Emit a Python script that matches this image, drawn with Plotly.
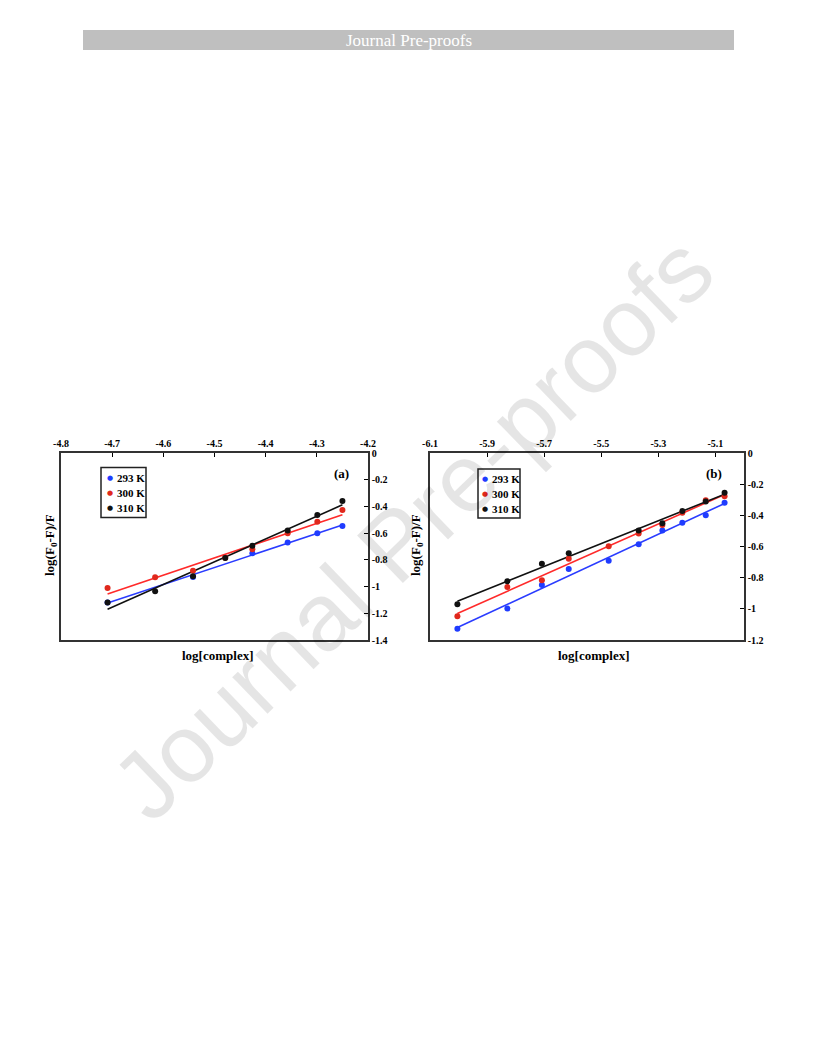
import numpy as np
import plotly.graph_objects as go

# figure is placed inside the page body (8px default margin)
W, H = 800, 1040
OFF = 8

# ---------------- data ----------------
series_names = ["293 K", "300 K", "310 K"]

# Panel (a)
a_x_293 = [-4.709, -4.542, -4.426, -4.357, -4.299, -4.250]
a_y_293 = [-1.119, -0.928, -0.750, -0.670, -0.601, -0.546]
a_x_300 = [-4.709, -4.616, -4.542, -4.479, -4.426, -4.357, -4.299, -4.250]
a_y_300 = [-1.010, -0.931, -0.881, -0.785, -0.720, -0.600, -0.514, -0.427]
a_x_310 = [-4.709, -4.616, -4.542, -4.479, -4.426, -4.357, -4.299, -4.250]
a_y_310 = [-1.119, -1.035, -0.923, -0.787, -0.695, -0.581, -0.464, -0.360]

# Panel (b)
b_x_293 = [-6.004, -5.829, -5.708, -5.614, -5.474, -5.369, -5.286, -5.216, -5.134, -5.068]
b_y_293 = [-1.128, -0.998, -0.847, -0.745, -0.691, -0.585, -0.498, -0.447, -0.400, -0.319]
b_x_300 = [-6.004, -5.829, -5.708, -5.614, -5.474, -5.369, -5.286, -5.216, -5.134, -5.068]
b_y_300 = [-1.047, -0.860, -0.817, -0.679, -0.598, -0.517, -0.462, -0.383, -0.304, -0.277]
b_x_310 = [-6.004, -5.829, -5.708, -5.614, -5.369, -5.286, -5.216, -5.134, -5.068]
b_y_310 = [-0.970, -0.823, -0.711, -0.643, -0.498, -0.451, -0.372, -0.311, -0.255]

# ticks
a_xticks = [-4.8, -4.7, -4.6, -4.5, -4.4, -4.3, -4.2]
a_xticktext = ["-4.8", "-4.7", "-4.6", "-4.5", "-4.4", "-4.3", "-4.2"]
a_yticks = [0, -0.2, -0.4, -0.6, -0.8, -1.0, -1.2, -1.4]
a_yticktext = ["0", "-0.2", "-0.4", "-0.6", "-0.8", "-1", "-1.2", "-1.4"]
b_xticks = [-6.1, -5.9, -5.7, -5.5, -5.3, -5.1]
b_xticktext = ["-6.1", "-5.9", "-5.7", "-5.5", "-5.3", "-5.1"]
b_yticks = [0, -0.2, -0.4, -0.6, -0.8, -1.0, -1.2]
b_yticktext = ["0", "-0.2", "-0.4", "-0.6", "-0.8", "-1", "-1.2"]

# ---------------- style ----------------
marker_colors = ["#1f3cff", "#e0281c", "#111111"]
line_colors = ["#2a3cff", "#ff2a2a", "#111111"]
SERIF = "Liberation Serif"


def px(x):
    return (x - OFF) / W


def py(y):
    return 1 - (y - OFF) / H


fig = go.Figure()

panels = [
    ("x", "y", [(a_x_293, a_y_293), (a_x_300, a_y_300), (a_x_310, a_y_310)]),
    ("x2", "y2", [(b_x_293, b_y_293), (b_x_300, b_y_300), (b_x_310, b_y_310)]),
]

for xa, ya, data in panels:
    for i, (xs, ys) in enumerate(data):
        xs_arr = np.array(xs)
        ys_arr = np.array(ys)
        k, b0 = np.polyfit(xs_arr, ys_arr, 1)
        lx = np.array([xs_arr.min(), xs_arr.max()])
        fig.add_trace(go.Scatter(x=lx, y=k * lx + b0, mode="lines",
                                 line=dict(color=line_colors[i], width=1.6),
                                 xaxis=xa, yaxis=ya, showlegend=False,
                                 hoverinfo="skip"))
    for i, (xs, ys) in enumerate(data):
        fig.add_trace(go.Scatter(x=xs, y=ys, mode="markers", name=series_names[i],
                                 marker=dict(color=marker_colors[i], size=6,
                                             line=dict(width=0)),
                                 xaxis=xa, yaxis=ya, showlegend=False))

tickfont = dict(family=SERIF, size=10, color="black", weight="bold")
common_x = dict(side="top", ticks="inside", ticklen=4, tickwidth=1, tickcolor="black",
                showline=True, mirror=True, linecolor="#333", linewidth=1.5,
                showgrid=False, zeroline=False, tickfont=tickfont, automargin=False)
common_y = dict(side="right", ticks="inside", ticklen=4, tickwidth=1, tickcolor="black",
                showline=True, mirror=True, linecolor="#333", linewidth=1.5,
                showgrid=False, zeroline=False, tickfont=tickfont, automargin=False)

ydom = [py(640), py(453)]
fig.update_layout(
    width=W, height=H,
    autosize=False,
    margin=dict(l=0, r=0, t=0, b=0, pad=0, autoexpand=False),
    paper_bgcolor="white", plot_bgcolor="white",
    showlegend=False,
    xaxis=dict(domain=[px(61), px(368)], range=[-4.8, -4.2], anchor="y",
               tickvals=a_xticks, ticktext=a_xticktext, **common_x),
    yaxis=dict(domain=ydom, range=[-1.4, 0], anchor="x",
               tickvals=a_yticks, ticktext=a_yticktext, **common_y),
    xaxis2=dict(domain=[px(430), px(744)], range=[-6.1, -5.0], anchor="y2",
                tickvals=b_xticks, ticktext=b_xticktext, **common_x),
    yaxis2=dict(domain=ydom, range=[-1.2, 0], anchor="x2",
                tickvals=b_yticks, ticktext=b_yticktext, **common_y),
)

shapes = []
ann = []


def note(text, x, y, font, xanchor="center", yanchor="middle", **kw):
    ann.append(dict(text=text, xref="paper", yref="paper", x=px(x), y=py(y),
                    xanchor=xanchor, yanchor=yanchor, showarrow=False,
                    font=font, **kw))


# header band
shapes.append(dict(type="rect", xref="paper", yref="paper",
                   x0=px(83), x1=px(734), y0=py(50), y1=py(30),
                   fillcolor="#bfbfbf", line=dict(width=0), layer="below"))
note("Journal Pre-proofs", 408.5, 40.5, dict(family=SERIF, size=17, color="white"))

lab_font = dict(family=SERIF, size=13, color="black", weight="bold")
# axis titles
for cx in (217, 593):
    note("log[complex]", cx, 655, lab_font)
for cx in (50, 416):
    note("log(F<sub>0</sub>-F)/F", cx, 545, lab_font, textangle=-90)
# panel labels
note("(a)", 341.5, 473.5, lab_font)
note("(b)", 713.5, 473.5, lab_font)

# legends (one per panel)
leg_font = dict(family=SERIF, size=11, color="black", weight="bold")
legends = [
    dict(box=(101, 146, 467.5, 517.5), rows=(477.7, 492.5, 507.7), mx=110, tx=115),
    dict(box=(478, 520, 469, 518), rows=(478.5, 493.5, 509), mx=485, tx=490),
]
for L in legends:
    x0, x1, y0, y1 = L["box"]
    shapes.append(dict(type="rect", xref="paper", yref="paper",
                       x0=px(x0), x1=px(x1), y0=py(y1), y1=py(y0),
                       fillcolor="white", line=dict(color="#222", width=1.5)))
    for i, ry in enumerate(L["rows"]):
        note("●", L["mx"], ry, dict(family="DejaVu Sans", size=7, color=marker_colors[i]))
        note(series_names[i], L["tx"], ry, leg_font, xanchor="left")

# watermark
note("Journal Pre-proofs", 412, 527,
     dict(family="Liberation Sans", size=96, color="rgba(0,0,0,0.10)"),
     textangle=-44)

fig.update_layout(shapes=shapes, annotations=ann)
fig.write_html("out.html")
